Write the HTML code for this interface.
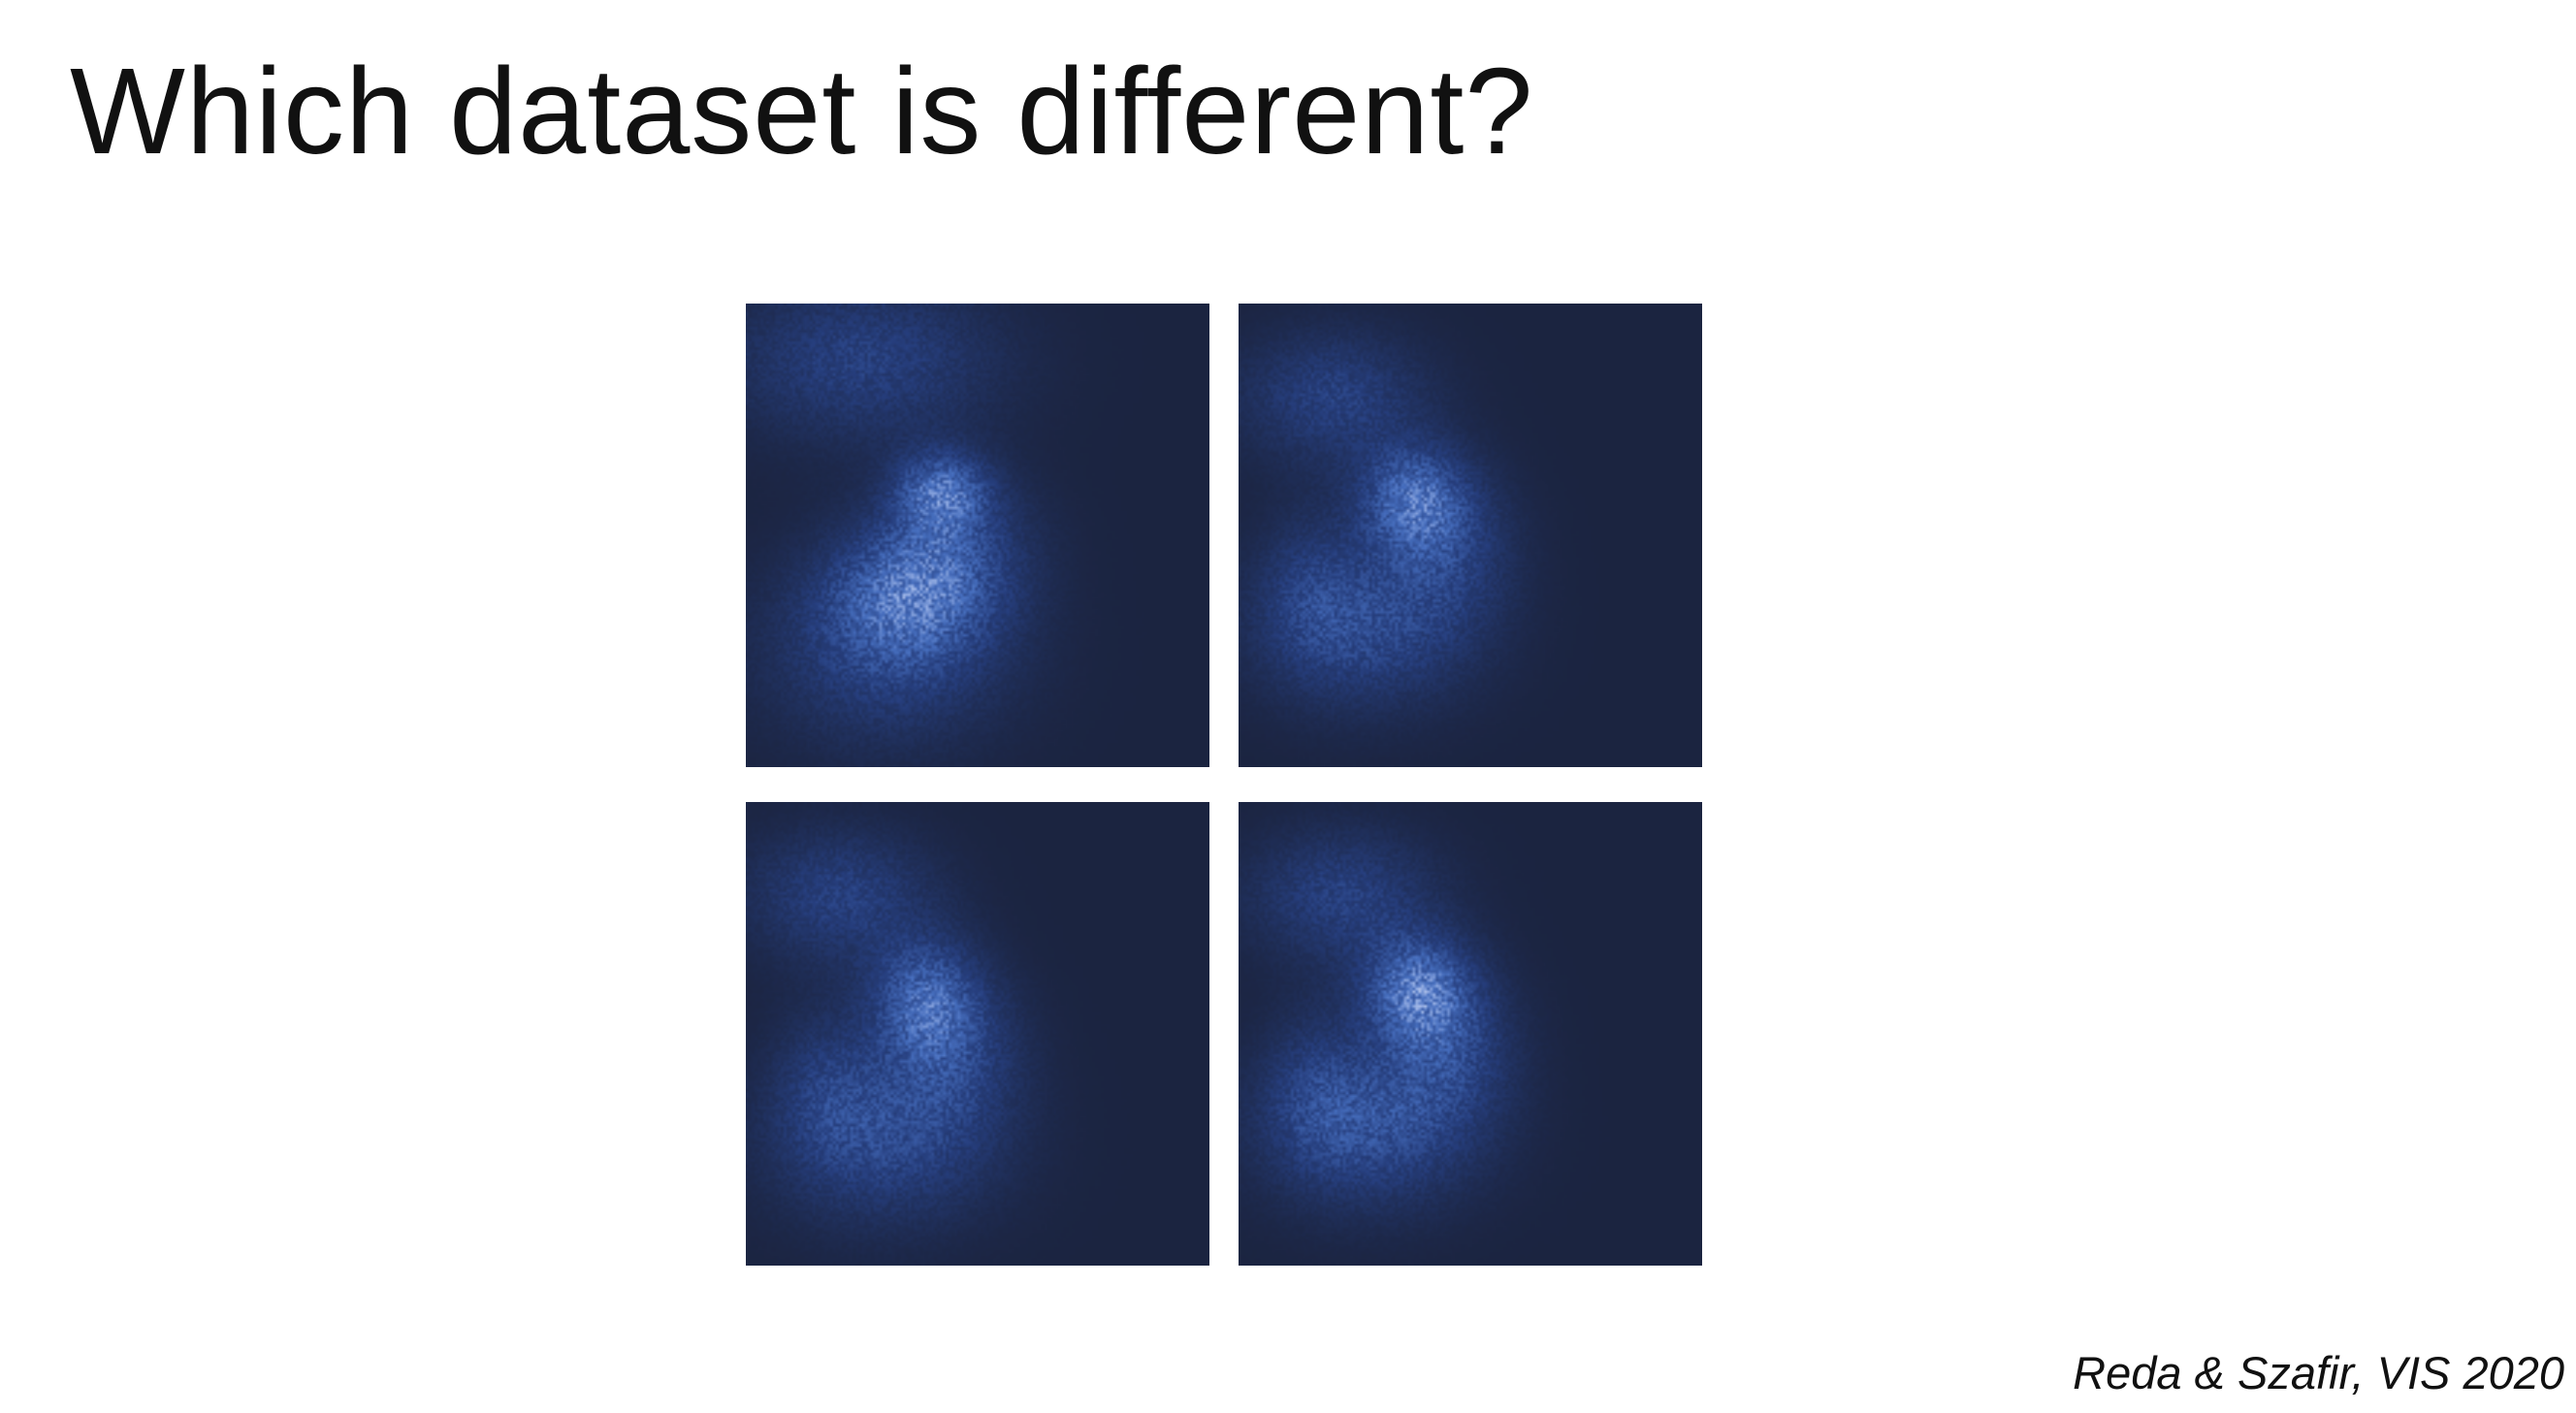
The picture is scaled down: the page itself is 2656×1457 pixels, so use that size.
<!DOCTYPE html>
<html><head><meta charset="utf-8">
<style>
html,body{margin:0;padding:0;background:#fff;}
body{width:2656px;height:1457px;position:relative;overflow:hidden;font-family:"Liberation Sans",sans-serif;}
#title{position:absolute;left:72px;top:42px;font-size:126px;font-weight:300;color:#111;letter-spacing:1px;white-space:nowrap;}
#cite{position:absolute;right:12px;top:1388px;font-size:47px;font-style:italic;color:#111;white-space:nowrap;}
canvas{position:absolute;width:478px;height:478px;}
</style></head><body>
<div id="title">Which dataset is different?</div>
<canvas id="p0" width="160" height="160" style="left:769px;top:313px"></canvas>
<canvas id="p1" width="160" height="160" style="left:1277px;top:313px"></canvas>
<canvas id="p2" width="160" height="160" style="left:769px;top:827px"></canvas>
<canvas id="p3" width="160" height="160" style="left:1277px;top:827px"></canvas>
<div id="cite">Reda &amp; Szafir, VIS 2020</div>
<script>
// density components per panel: [cx, cy, sx, sy, weight] in normalized panel units
const panel1 = [[0.25,0.12,0.2,0.12,0.35],[0.42,0.4,0.07,0.06,0.55],[0.36,0.62,0.13,0.1,0.5],[0.3,0.75,0.18,0.14,0.35],[0.45,0.5,0.12,0.1,0.25]];
const panel2 = [[0.2,0.2,0.14,0.1,0.35],[0.37,0.42,0.08,0.08,0.55],[0.45,0.52,0.1,0.12,0.3],[0.27,0.7,0.16,0.12,0.4],[0.15,0.6,0.08,0.12,0.2]];
const panel3 = [[0.2,0.2,0.14,0.1,0.35],[0.38,0.42,0.08,0.09,0.5],[0.45,0.53,0.1,0.12,0.3],[0.3,0.72,0.17,0.13,0.4],[0.17,0.6,0.08,0.12,0.2]];
const panel4 = [[0.22,0.2,0.14,0.1,0.35],[0.38,0.4,0.08,0.08,0.6],[0.45,0.52,0.1,0.12,0.35],[0.28,0.7,0.16,0.12,0.45],[0.16,0.6,0.08,0.12,0.2]];
const panels = [panel1, panel2, panel3, panel4];
const stops=[[0,[27,36,64]],[0.3,[38,62,125]],[0.6,[70,110,190]],[0.85,[150,175,228]],[1,[238,238,246]]];
function cmap(t){t=Math.max(0,Math.min(1,t));for(let i=1;i<stops.length;i++){if(t<=stops[i][0]){const a=stops[i-1],b=stops[i],f=(t-a[0])/(b[0]-a[0]);return a[1].map((v,k)=>Math.round(v+(b[1][k]-v)*f));}}return stops[stops.length-1][1];}
function grain(x,y){let h=(x*374761393+y*668265263)|0;h=(h^(h>>>13))*1274126177;h=h^(h>>>16);return ((h>>>0)%1000)/1000;}
panels.forEach((comps,pi)=>{
  const c=document.getElementById('p'+pi),ctx=c.getContext('2d'),N=c.width;
  const img=ctx.createImageData(N,N);
  for(let y=0;y<N;y++)for(let x=0;x<N;x++){
    const u=x/N,v=y/N;let d=0;
    comps.forEach(([cx,cy,sx,sy,w])=>{d+=w*Math.exp(-((u-cx)**2/(2*sx*sx)+(v-cy)**2/(2*sy*sy)));});
    d=d*(0.7+0.6*grain(x+pi*1000,y));
    const col=cmap(d*0.85);const i=(y*N+x)*4;
    img.data[i]=col[0];img.data[i+1]=col[1];img.data[i+2]=col[2];img.data[i+3]=255;
  }
  ctx.putImageData(img,0,0);
});
</script>
</body></html>
